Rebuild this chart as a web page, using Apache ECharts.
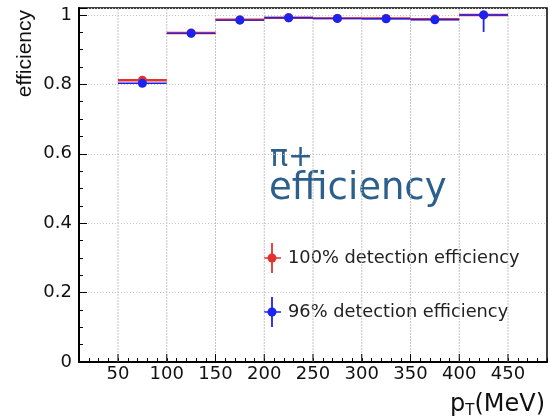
<!DOCTYPE html>
<html><head><meta charset="utf-8">
<script src="https://cdn.jsdelivr.net/npm/echarts@6/dist/echarts.min.js"></script>
<style>html,body{margin:0;padding:0;background:#fff}#c{width:550px;height:419px}</style>
</head><body><div id="c"></div>
<script>
// bin edges (MeV)
const binLow  = [50, 100, 150, 200, 250, 300, 350, 400];
const binHigh = [100, 150, 200, 250, 300, 350, 400, 450];
// 100% detection efficiency
const eff100    = [0.812, 0.948, 0.986, 0.992, 0.990, 0.990, 0.988, 1.000];
const err100Lo  = [0.006, 0.004, 0.003, 0.002, 0.002, 0.002, 0.003, 0.004];
const err100Hi  = [0.006, 0.004, 0.003, 0.002, 0.002, 0.002, 0.003, 0.000];
// 96% detection efficiency
const eff96     = [0.803, 0.947, 0.985, 0.992, 0.990, 0.989, 0.986, 1.000];
const err96Lo   = [0.006, 0.004, 0.003, 0.002, 0.002, 0.002, 0.003, 0.049];
const err96Hi   = [0.006, 0.004, 0.003, 0.002, 0.002, 0.002, 0.003, 0.000];
// axis ticks
const majorXTicks = [50, 100, 150, 200, 250, 300, 350, 400, 450];
const yTickLabels = [0, 0.2, 0.4, 0.6, 0.8, 1];

const X_MIN = 10, X_MAX = 490, Y_MIN = 0, Y_MAX = 1.02;
const RED = '#e2322f', BLUE = '#1b22f2';

function rows(v, lo, hi) {
  return binLow.map((l, i) => [l, binHigh[i], v[i], lo[i], hi[i]]);
}
function histItem(color, lw, r) {
  return function (params, api) {
    const l = api.value(0), h = api.value(1), v = api.value(2);
    const el = api.value(3), eh = api.value(4), m = (l + h) / 2;
    const pL = api.coord([l, v]), pR = api.coord([h, v]);
    const pM = api.coord([m, v]), pT = api.coord([m, v + eh]), pB = api.coord([m, v - el]);
    return { type: 'group', children: [
      { type: 'line', shape: { x1: pL[0], y1: pL[1], x2: pR[0], y2: pR[1] }, style: { stroke: color, lineWidth: lw } },
      { type: 'line', shape: { x1: pT[0], y1: pT[1], x2: pB[0], y2: pB[1] }, style: { stroke: color, lineWidth: 1.8 } },
      { type: 'circle', shape: { cx: pM[0], cy: pM[1], r: r }, style: { fill: color } }
    ]};
  };
}

const chart = echarts.init(document.getElementById('c'), null, { renderer: 'canvas' });
const font = 'DejaVu Sans';
chart.setOption({
  animation: false,
  backgroundColor: '#fff',
  grid: { left: 79, right: 2, top: 8, bottom: 56, show: true, borderColor: '#000', borderWidth: 1.5, backgroundColor: 'transparent' },
  xAxis: {
    type: 'value', min: X_MIN, max: X_MAX, interval: 10,
    axisLine: { show: true, lineStyle: { color: '#000', width: 2 } },
    axisTick: { show: true, inside: true, length: 4, lineStyle: { color: '#000', width: 1 } },
    axisLabel: { fontFamily: font, fontSize: 18, color: '#111', margin: 3,
      formatter: v => (majorXTicks.indexOf(Math.round(v)) >= 0 && Math.abs(v - Math.round(v)) < 1e-6) ? String(Math.round(v)) : '' },
    splitLine: { show: false },
    name: '{p|p}{s|T}{p|(MeV)}', nameLocation: 'end', nameGap: 0,
    nameTextStyle: { align: 'right', verticalAlign: 'top', padding: [29, 2, 0, 0],
      rich: { p: { fontFamily: font, fontSize: 24, color: '#111' }, s: { fontFamily: font, fontSize: 15, color: '#111', verticalAlign: 'bottom', padding: [13, 0, 0, 0] } } }
  },
  yAxis: {
    type: 'value', min: Y_MIN, max: Y_MAX, interval: 0.2,
    axisLine: { show: true, lineStyle: { color: '#000', width: 2 } },
    axisTick: { show: true, inside: true, length: 8, lineStyle: { color: '#000', width: 1 } },
    minorTick: { show: true, splitNumber: 4, length: 4, lineStyle: { color: '#000', width: 1 } },
    axisLabel: { fontFamily: font, fontSize: 18, color: '#111', margin: 7,
      formatter: v => { const k = yTickLabels.find(t => Math.abs(t - v) < 1e-6); return k === undefined ? '' : String(k); } },
    splitLine: { show: true, lineStyle: { color: '#c4c4c4', type: [1, 2], width: 1 } },
    name: 'efficiency', nameLocation: 'end', nameRotate: 90, nameGap: -2,
    nameTextStyle: { fontFamily: 'Liberation Sans', fontSize: 21, color: '#111', align: 'right', verticalAlign: 'bottom', padding: [0, 0, 43, 0] }
  },
  series: [
    {
      type: 'custom', name: 'grid', silent: true, z: 1,
      data: majorXTicks.map(x => [x]),
      encode: { x: 0 },
      renderItem: function (params, api) {
        const x = api.value(0);
        const b = api.coord([x, Y_MIN]), t = api.coord([x, Y_MAX]);
        return { type: 'group', children: [
          { type: 'line', shape: { x1: b[0], y1: b[1], x2: t[0], y2: t[1] }, style: { stroke: '#c4c4c4', lineWidth: 1, lineDash: [2, 1] } },
          { type: 'line', shape: { x1: b[0], y1: b[1], x2: b[0], y2: b[1] - 8 }, style: { stroke: '#000', lineWidth: 1 } }
        ]};
      }
    },
    { type: 'custom', name: '100% detection efficiency', z: 3, data: rows(eff100, err100Lo, err100Hi),
      encode: { x: [0, 1], y: 2 }, renderItem: histItem(RED, 2.4, 4.5) },
    { type: 'custom', name: '96% detection efficiency', z: 4, data: rows(eff96, err96Lo, err96Hi),
      encode: { x: [0, 1], y: 2 }, renderItem: histItem(BLUE, 1.4, 4.5) }
  ],
  graphic: [
    { type: 'text', left: 270, top: 143, style: { text: 'π+', font: '30px "DejaVu Sans"', fill: '#2c5f8c' } },
    { type: 'text', left: 269, top: 171, style: { text: 'efficiency', font: '37px "DejaVu Sans"', fill: '#2c5f8c' } },
    { type: 'line', shape: { x1: 272, y1: 243, x2: 272, y2: 273 }, style: { stroke: RED, lineWidth: 1.8 } },
    { type: 'line', shape: { x1: 264, y1: 258, x2: 281, y2: 258 }, style: { stroke: RED, lineWidth: 1.5 } },
    { type: 'circle', shape: { cx: 272, cy: 258, r: 4.5 }, style: { fill: RED } },
    { type: 'text', left: 288, top: 249, style: { text: '100% detection efficiency', font: '17.8px "DejaVu Sans"', fill: '#222' } },
    { type: 'line', shape: { x1: 272, y1: 297, x2: 272, y2: 327 }, style: { stroke: BLUE, lineWidth: 1.8 } },
    { type: 'line', shape: { x1: 264, y1: 312, x2: 281, y2: 312 }, style: { stroke: BLUE, lineWidth: 1.5 } },
    { type: 'circle', shape: { cx: 272, cy: 312, r: 4.5 }, style: { fill: BLUE } },
    { type: 'text', left: 288, top: 303, style: { text: '96% detection efficiency', font: '17.8px "DejaVu Sans"', fill: '#222' } }
  ]
});
</script></body></html>
